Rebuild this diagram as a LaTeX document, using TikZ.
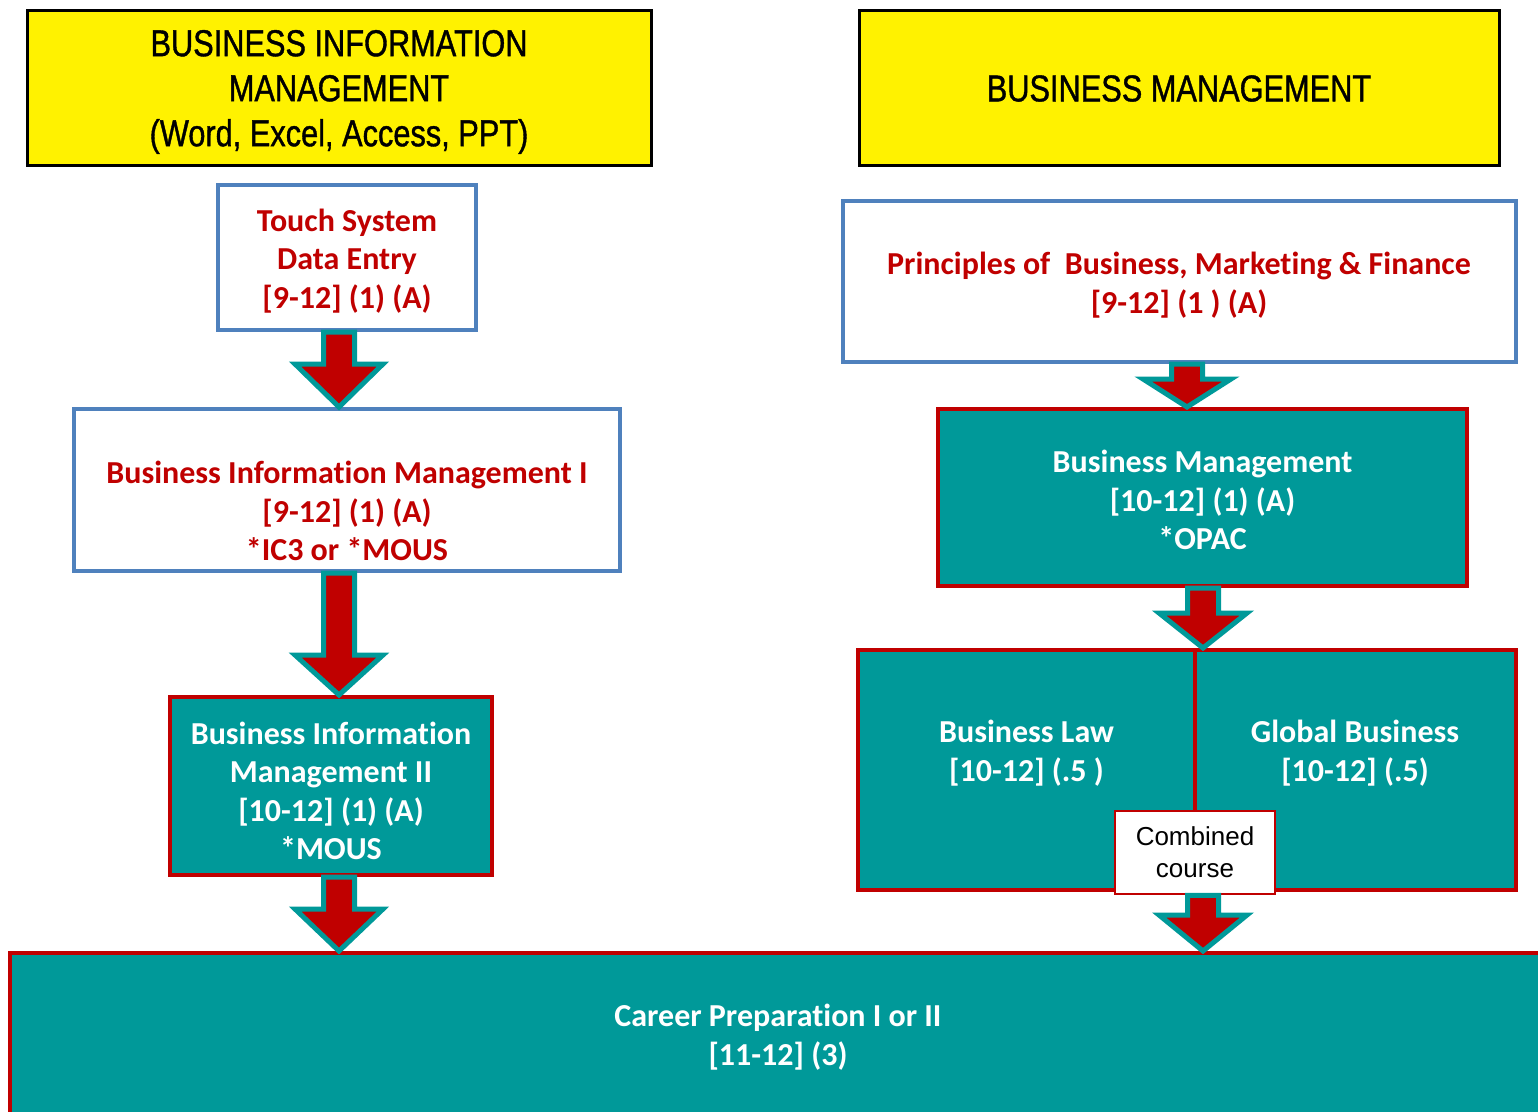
\documentclass[tikz,border=0pt]{standalone}
\usepackage{fontspec}
\setmainfont{Carlito}[Ligatures={NoCommon}]
\newfontfamily\narrowfont[FakeStretch=0.82,FakeBold=1]{Liberation Sans}
\newfontfamily\arialfont{Liberation Sans}
\usetikzlibrary{calc}
\definecolor{bteal}{RGB}{0,153,153}
\definecolor{bred}{RGB}{192,0,0}
\definecolor{bblue}{RGB}{79,129,189}
\tikzset{
  hdr/.style={draw=black, line width=3pt, fill=yellow, inner sep=0pt},
  htxt/.style={align=center, inner sep=0pt, font=\narrowfont\fontsize{37.5}{45}\selectfont},
  wbox/.style={draw=bblue, line width=4pt, fill=white, inner sep=0pt},
  tbox/.style={draw=bred, line width=4pt, fill=bteal, inner sep=0pt},
  rtxt/.style={text=bred, align=center, inner sep=0pt, font=\bfseries\fontsize{32}{38.4}\selectfont},
  wtxt/.style={text=white, align=center, inner sep=0pt, font=\bfseries\fontsize{32}{38.4}\selectfont},
  cbox/.style={draw=bred, line width=2.5pt, fill=white, inner sep=0pt, align=center,
    font=\arialfont\fontsize{26}{32}\selectfont},
  barr/.style={fill=bred, draw=bteal, line width=5pt, line join=miter}
}
% #1 x centre, #2 from node, #3 to node, #4 head length
\newcommand\blockarr[4]{%
  \draw[barr] let \p1=(#2.south), \p2=(#3.north) in
    ({#1pt-15.5pt},\y1) -- ({#1pt-15.5pt},{\y2+#4pt}) -- ({#1pt-44pt},{\y2+#4pt})
    -- (#1pt,\y2) -- ({#1pt+44pt},{\y2+#4pt}) -- ({#1pt+15.5pt},{\y2+#4pt})
    -- ({#1pt+15.5pt},\y1) -- cycle;}
\begin{document}
\begin{tikzpicture}[x=1pt,y=-1pt]
\useasboundingbox (0,0) rectangle (1538,1111);
% headers
\node[hdr, minimum width=624, minimum height=155] (h1) at (339,87.5) {};
\node[htxt] (h1t) at (339,92) {BUSINESS INFORMATION\\MANAGEMENT\\(Word, Excel, Access, PPT)};
\node[hdr, minimum width=640, minimum height=155] (h2) at (1179,87.5) {};
\node[htxt] (h2t) at (1179,88.5) {BUSINESS MANAGEMENT};
% left column
\node[wbox, minimum width=258, minimum height=145] (touch) at (347,257.5) {};
\node[rtxt] (toucht) at (347,261) {Touch System\\Data Entry\\{[9-12] (1) (A)}};
\node[wbox, minimum width=546, minimum height=162] (bim1) at (347,490) {};
\node[rtxt] (bim1t) at (347,511) {Business Information Management I\\{[9-12] (1) (A)}\\*IC3 or *MOUS};
\node[tbox, minimum width=322, minimum height=178] (bim2) at (331,786) {};
\node[wtxt] (bim2t) at (331,791) {Business Information\\Management II\\{[10-12] (1) (A)}\\*MOUS};
% right column
\node[wbox, minimum width=673, minimum height=161] (prin) at (1179.5,281.5) {};
\node[rtxt] (print) at (1179,285) {Principles of\ \ Business, Marketing \& Finance\\{[9-12] (1 ) (A)}};
\node[tbox, minimum width=529, minimum height=177] (bm) at (1202.5,497.5) {};
\node[wtxt] (bmt) at (1202.5,500) {Business Management\\{[10-12] (1) (A)}\\*OPAC};
\node[tbox, minimum width=337, minimum height=240] (law) at (1026.5,770) {};
\node[wtxt] (lawt) at (1026.5,753) {Business Law\\{[10-12] (.5 )}};
\node[tbox, minimum width=321, minimum height=240] (glob) at (1355.5,770) {};
\node[wtxt] (globt) at (1355,753) {Global Business\\{[10-12] (.5)}};
\node[cbox, minimum width=160, minimum height=83] (comb) at (1195,852.5) {Combined\\course};
% bottom
\node[tbox, minimum width=1536, minimum height=164] (career) at (778,1035) {};
\node[wtxt] (careert) at (778,1037) {Career Preparation I or II\\{[11-12] (3)}};
% arrows
\blockarr{339}{touch}{bim1}{43}
\blockarr{339}{bim1}{bim2}{40}
\blockarr{339}{bim2}{career}{42}
\blockarr{1187}{prin}{bm}{28}
\blockarr{1203}{bm}{law}{35}
\blockarr{1203}{comb}{career}{36}
\end{tikzpicture}
\end{document}
